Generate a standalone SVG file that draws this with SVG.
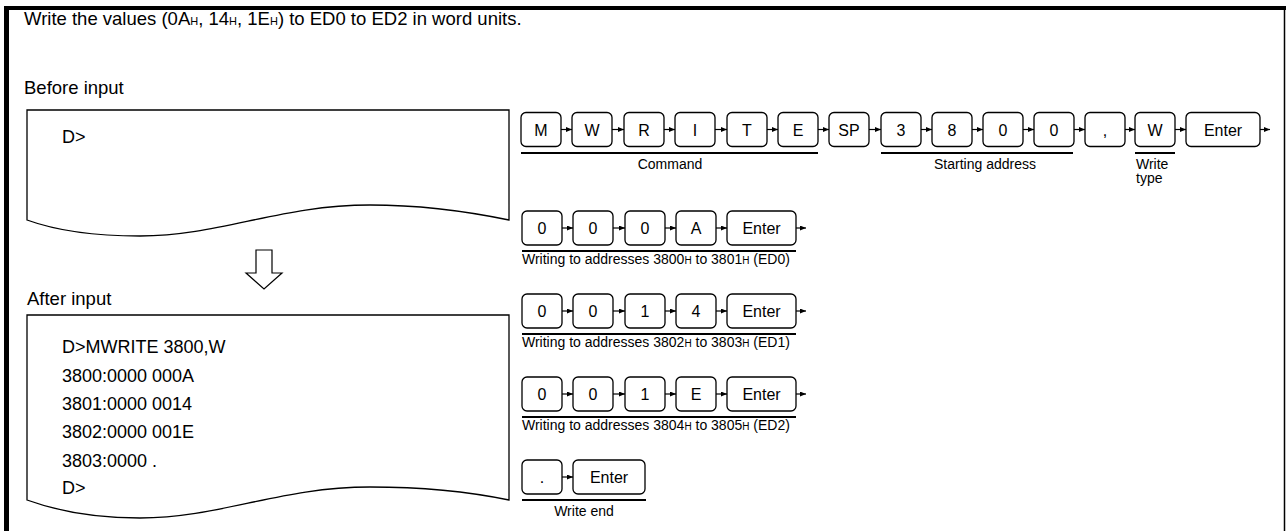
<svg xmlns="http://www.w3.org/2000/svg" width="1286" height="531" viewBox="0 0 1286 531">
<defs>
<marker id="ah" markerWidth="6" markerHeight="5" refX="6" refY="2.5" orient="auto" markerUnits="userSpaceOnUse"><path d="M0,0 L6,2.5 L0,5 Z" fill="#000"/></marker>
<style>
text{font-family:"Liberation Sans",Arial,sans-serif;fill:#000}
.t{font-size:18.5px}
.t .sub{font-size:11px}
.term{font-size:18px}
.k rect{fill:#fff;stroke:#000;stroke-width:1.3}
.k text{font-size:16px;text-anchor:middle}
.lbl{font-size:14px}
.ul{stroke:#000;stroke-width:2.2}
.con line{stroke:#000;stroke-width:1.2;marker-end:url(#ah)}
.sub{font-size:10px}
.scr{fill:#fff;stroke:#000;stroke-width:1.3}
</style>
</defs>
<rect width="1286" height="531" fill="#fff"/>
<g id="frame" stroke="#000">
<line x1="4" y1="8" x2="1286" y2="8" stroke-width="4"/>
<line x1="6.5" y1="6" x2="6.5" y2="531" stroke-width="5"/>
<line x1="1284.5" y1="8" x2="1284.5" y2="531" stroke-width="1.5"/>
</g>
<text class="t" x="24" y="25">Write the values (0A<tspan class="sub">H</tspan>, 14<tspan class="sub">H</tspan>, 1E<tspan class="sub">H</tspan>) to ED0 to ED2 in word units.</text>
<text class="t" x="24" y="94">Before input</text>
<text class="t" x="27" y="305">After input</text>
<g id="before">
<path class="scr" d="M27,110 H509 V220 C480,214 430,205 370,205 C280,205 220,236 140,236 C100,236 60,232 27,220 Z"/>
<text class="term" x="62" y="143">D&gt;</text>
</g>
<g id="down-arrow"><path d="M256,250 H272 V273 H282 L264,289 L246,273 H256 Z" fill="#fff" stroke="#000" stroke-width="1.2"/></g>
<g id="after">
<path class="scr" d="M27,315 H509 V500 C480,494 430,487 370,487 C280,487 220,518 140,518 C100,518 60,512 27,500 Z"/>
<text class="term" x="62" y="353">D&gt;MWRITE 3800,W</text>
<text class="term" x="62" y="382">3800:0000 000A</text>
<text class="term" x="62" y="410">3801:0000 0014</text>
<text class="term" x="62" y="438">3802:0000 001E</text>
<text class="term" x="62" y="467">3803:0000 .</text>
<text class="term" x="62" y="494">D&gt;</text>
</g>
<g id="row1">
<g class="k" id="k1-M"><rect x="521" y="112.5" width="40" height="34" rx="5"/><text x="541" y="135.5">M</text></g>
<g class="k" id="k1-W"><rect x="572" y="112.5" width="40" height="34" rx="5"/><text x="592" y="135.5">W</text></g>
<g class="k" id="k1-R"><rect x="624" y="112.5" width="40" height="34" rx="5"/><text x="644" y="135.5">R</text></g>
<g class="k" id="k1-I"><rect x="675" y="112.5" width="40" height="34" rx="5"/><text x="695" y="135.5">I</text></g>
<g class="k" id="k1-T"><rect x="727" y="112.5" width="40" height="34" rx="5"/><text x="747" y="135.5">T</text></g>
<g class="k" id="k1-E"><rect x="778" y="112.5" width="40" height="34" rx="5"/><text x="798" y="135.5">E</text></g>
<g class="k" id="k1-SP"><rect x="829" y="112.5" width="40" height="34" rx="5"/><text x="849" y="135.5">SP</text></g>
<g class="k" id="k1-3"><rect x="881" y="112.5" width="40" height="34" rx="5"/><text x="901" y="135.5">3</text></g>
<g class="k" id="k1-8"><rect x="932" y="112.5" width="40" height="34" rx="5"/><text x="952" y="135.5">8</text></g>
<g class="k" id="k1-0a"><rect x="983" y="112.5" width="40" height="34" rx="5"/><text x="1003" y="135.5">0</text></g>
<g class="k" id="k1-0b"><rect x="1034" y="112.5" width="40" height="34" rx="5"/><text x="1054" y="135.5">0</text></g>
<g class="k" id="k1-comma"><rect x="1085" y="112.5" width="40" height="34" rx="5"/><text x="1105" y="135.5">,</text></g>
<g class="k" id="k1-W2"><rect x="1135" y="112.5" width="40" height="34" rx="5"/><text x="1155" y="135.5">W</text></g>
<g class="k" id="k1-Enter"><rect x="1186" y="112.5" width="74" height="34" rx="5"/><text x="1223" y="135.5">Enter</text></g>
<line class="ul" x1="521" y1="153" x2="818" y2="153"/>
<line class="ul" x1="881" y1="153" x2="1073" y2="153"/>
<line class="ul" x1="1135" y1="153" x2="1175" y2="153"/>
<text class="lbl" x="670" y="169" text-anchor="middle">Command</text>
<text class="lbl" x="985" y="169" text-anchor="middle">Starting address</text>
<text class="lbl" x="1136" y="169">Write</text>
<text class="lbl" x="1136" y="183">type</text>
</g>
<g id="row2">
<g class="k"><rect x="522" y="211" width="40" height="34" rx="5"/><text x="542" y="234">0</text></g>
<g class="k"><rect x="573" y="211" width="40" height="34" rx="5"/><text x="593" y="234">0</text></g>
<g class="k"><rect x="625" y="211" width="40" height="34" rx="5"/><text x="645" y="234">0</text></g>
<g class="k"><rect x="676" y="211" width="40" height="34" rx="5"/><text x="696" y="234">A</text></g>
<g class="k"><rect x="727" y="211" width="69" height="34" rx="5"/><text x="761.5" y="234">Enter</text></g>
<line class="ul" x1="522" y1="251" x2="796" y2="251"/>
<text class="lbl" x="522" y="264">Writing to addresses 3800<tspan class="sub">H</tspan> to 3801<tspan class="sub">H</tspan> (ED0)</text>
</g>
<g id="row3">
<g class="k"><rect x="522" y="294" width="40" height="34" rx="5"/><text x="542" y="317">0</text></g>
<g class="k"><rect x="573" y="294" width="40" height="34" rx="5"/><text x="593" y="317">0</text></g>
<g class="k"><rect x="625" y="294" width="40" height="34" rx="5"/><text x="645" y="317">1</text></g>
<g class="k"><rect x="676" y="294" width="40" height="34" rx="5"/><text x="696" y="317">4</text></g>
<g class="k"><rect x="727" y="294" width="69" height="34" rx="5"/><text x="761.5" y="317">Enter</text></g>
<line class="ul" x1="522" y1="334" x2="796" y2="334"/>
<text class="lbl" x="522" y="347">Writing to addresses 3802<tspan class="sub">H</tspan> to 3803<tspan class="sub">H</tspan> (ED1)</text>
</g>
<g id="row4">
<g class="k"><rect x="522" y="377" width="40" height="34" rx="5"/><text x="542" y="400">0</text></g>
<g class="k"><rect x="573" y="377" width="40" height="34" rx="5"/><text x="593" y="400">0</text></g>
<g class="k"><rect x="625" y="377" width="40" height="34" rx="5"/><text x="645" y="400">1</text></g>
<g class="k"><rect x="676" y="377" width="40" height="34" rx="5"/><text x="696" y="400">E</text></g>
<g class="k"><rect x="727" y="377" width="69" height="34" rx="5"/><text x="761.5" y="400">Enter</text></g>
<line class="ul" x1="522" y1="417" x2="796" y2="417"/>
<text class="lbl" x="522" y="430">Writing to addresses 3804<tspan class="sub">H</tspan> to 3805<tspan class="sub">H</tspan> (ED2)</text>
</g>
<g id="row5">
<g class="k"><rect x="522" y="460" width="40" height="34" rx="5"/><text x="542" y="483">.</text></g>
<g class="k"><rect x="573" y="460" width="72" height="34" rx="5"/><text x="609" y="483">Enter</text></g>
<line class="ul" x1="522" y1="500" x2="646" y2="500"/>
<text class="lbl" x="584" y="516" text-anchor="middle">Write end</text>
</g>
<g id="connectors" class="con">
<line x1="561" y1="129.5" x2="572" y2="129.5"/>
<line x1="612" y1="129.5" x2="624" y2="129.5"/>
<line x1="664" y1="129.5" x2="675" y2="129.5"/>
<line x1="715" y1="129.5" x2="727" y2="129.5"/>
<line x1="767" y1="129.5" x2="778" y2="129.5"/>
<line x1="818" y1="129.5" x2="829" y2="129.5"/>
<line x1="869" y1="129.5" x2="881" y2="129.5"/>
<line x1="921" y1="129.5" x2="932" y2="129.5"/>
<line x1="972" y1="129.5" x2="983" y2="129.5"/>
<line x1="1023" y1="129.5" x2="1034" y2="129.5"/>
<line x1="1074" y1="129.5" x2="1085" y2="129.5"/>
<line x1="1125" y1="129.5" x2="1135" y2="129.5"/>
<line x1="1175" y1="129.5" x2="1186" y2="129.5"/>
<line x1="1260" y1="129.5" x2="1270" y2="129.5"/>
<line x1="562" y1="228" x2="573" y2="228"/>
<line x1="613" y1="228" x2="625" y2="228"/>
<line x1="665" y1="228" x2="676" y2="228"/>
<line x1="716" y1="228" x2="727" y2="228"/>
<line x1="796" y1="228" x2="806" y2="228"/>
<line x1="562" y1="311" x2="573" y2="311"/>
<line x1="613" y1="311" x2="625" y2="311"/>
<line x1="665" y1="311" x2="676" y2="311"/>
<line x1="716" y1="311" x2="727" y2="311"/>
<line x1="796" y1="311" x2="806" y2="311"/>
<line x1="562" y1="394" x2="573" y2="394"/>
<line x1="613" y1="394" x2="625" y2="394"/>
<line x1="665" y1="394" x2="676" y2="394"/>
<line x1="716" y1="394" x2="727" y2="394"/>
<line x1="796" y1="394" x2="806" y2="394"/>
<line x1="562" y1="477" x2="573" y2="477"/>
</g>
</svg>
